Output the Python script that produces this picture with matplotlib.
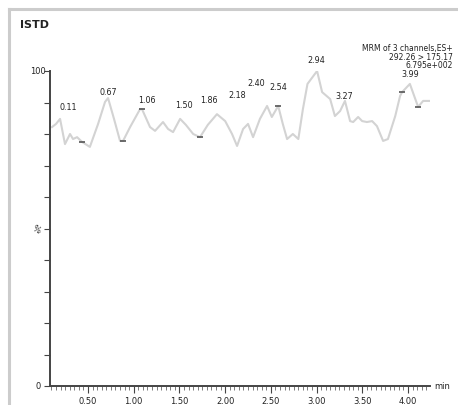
import matplotlib.pyplot as plt
from matplotlib.lines import Line2D
from matplotlib.ticker import MultipleLocator, FixedLocator

# chromatogram trace (time in min, relative intensity %)
time = [0.106, 0.15, 0.194, 0.248, 0.303, 0.336, 0.38, 0.434, 0.52, 0.61,
        0.686, 0.719, 0.784, 0.85, 0.883, 0.96, 1.069, 1.09, 1.178, 1.233,
        1.32, 1.375, 1.43, 1.507, 1.57, 1.65, 1.725, 1.81, 1.91, 2.0,
        2.075, 2.13, 2.196, 2.25, 2.305, 2.38, 2.458, 2.51, 2.58, 2.63,
        2.677, 2.74, 2.8, 2.85, 2.9, 3.005, 3.06, 3.148, 3.2, 3.257,
        3.31, 3.366, 3.4, 3.454, 3.498, 3.55, 3.607, 3.66, 3.727, 3.78,
        3.86, 3.913, 3.935, 4.02, 4.11, 4.165, 4.24]
intensity = [82.2, 83.2, 84.8, 76.8, 80.0, 78.4, 79.0, 77.5, 75.9, 83.2,
             90.2, 91.4, 84.8, 77.8, 77.8, 82.2, 87.9, 87.9, 82.2, 81.0,
             83.8, 81.6, 80.6, 84.8, 82.9, 80.0, 79.0, 82.9, 86.3, 84.1,
             80.0, 76.2, 81.6, 83.2, 79.0, 84.8, 88.9, 85.4, 88.9, 83.2,
             78.4, 80.0, 78.4, 87.9, 95.9, 100.0, 93.3, 91.1, 85.7, 87.3,
             90.5, 84.1, 83.8, 85.4, 84.1, 83.8, 84.1, 82.5, 77.8, 78.4,
             85.7, 92.1, 93.3, 95.9, 88.6, 90.5, 90.5]

# peak integration marks
mark_time = [0.434, 0.883, 1.09, 1.725, 2.58, 3.935, 4.11]
mark_int = [77.5, 77.8, 87.9, 79.0, 88.9, 93.3, 88.6]

# peak retention time labels
peak_labels = ["0.11", "0.67", "1.06", "1.50", "1.86", "2.18",
               "2.40", "2.54", "2.94", "3.27", "3.99"]
label_time = [0.28, 0.719, 1.146, 1.55, 1.82, 2.13, 2.34, 2.58, 2.995, 3.30, 4.02]
label_int = [87.3, 92.1, 89.5, 87.9, 89.5, 91.1, 94.9, 93.7, 102.2, 90.8, 97.8]

header = ["MRM of 3 channels,ES+", "292.26 > 175.17", "6.795e+002"]

txt = "#222222"
fig = plt.figure(figsize=(4.58, 4.06), dpi=100)
ax = fig.add_axes([50 / 458, 19 / 406, 380 / 458, 315 / 406])

ax.plot(time, intensity, color="#d3d3d3", lw=1.5, solid_joinstyle="round")
ax.plot(mark_time, mark_int, ls="none", marker="_", ms=4, mew=1.2, color="#555555")
for lab, t, v in zip(peak_labels, label_time, label_int):
    ax.text(t, v, lab, fontsize=5.8, color=txt, ha="center", va="bottom")

ax.set_xlim(0.084, 4.24)
ax.set_ylim(0, 100)
for s in ["top", "right"]:
    ax.spines[s].set_visible(False)
for s in ["left", "bottom"]:
    ax.spines[s].set_color("#444444")
    ax.spines[s].set_linewidth(1.4)

ax.xaxis.set_major_locator(FixedLocator([0.5, 1.0, 1.5, 2.0, 2.5, 3.0, 3.5, 4.0]))
ax.xaxis.set_minor_locator(MultipleLocator(0.05))
ax.xaxis.set_major_formatter(lambda v, p: f"{v:.2f}")
ax.tick_params(axis="x", which="major", length=5, width=0.8, colors="#444444",
               labelsize=6, labelcolor=txt, pad=2)
ax.tick_params(axis="x", which="minor", length=3, width=0.6, colors="#666666")

ax.yaxis.set_major_locator(MultipleLocator(10))
ax.set_yticklabels([])
ax.tick_params(axis="y", which="major", length=4, width=0.8, colors="#444444")
ax.text(-0.012, 100, "100", transform=ax.get_yaxis_transform(), fontsize=6,
        color=txt, ha="right", va="center")
ax.text(-0.025, 0, "0", transform=ax.get_yaxis_transform(), fontsize=6,
        color=txt, ha="right", va="center")
ax.text(-0.022, 50, "%", transform=ax.get_yaxis_transform(), fontsize=6,
        color=txt, ha="right", va="center", rotation=-30)
ax.text(1.012, 0, "min", transform=ax.get_yaxis_transform(), fontsize=6,
        color=txt, ha="left", va="center")

fig.text(20 / 458, 1 - 25 / 406, "ISTD", fontsize=8, fontweight="bold",
         color=txt, ha="left", va="center")
for i, line in enumerate(header):
    fig.text(453 / 458, 1 - (48 + 9 * i) / 406, line, fontsize=5.5,
             color=txt, ha="right", va="center")

# grey page frame
fig.add_artist(Line2D([9 / 458, 9 / 458], [0, 1 - 10 / 406], color="#cccccc",
                      lw=2.2, transform=fig.transFigure))
fig.add_artist(Line2D([9 / 458, 1], [1 - 10 / 406, 1 - 10 / 406], color="#cccccc",
                      lw=2.2, transform=fig.transFigure))

fig.savefig("out.png", dpi=100)
